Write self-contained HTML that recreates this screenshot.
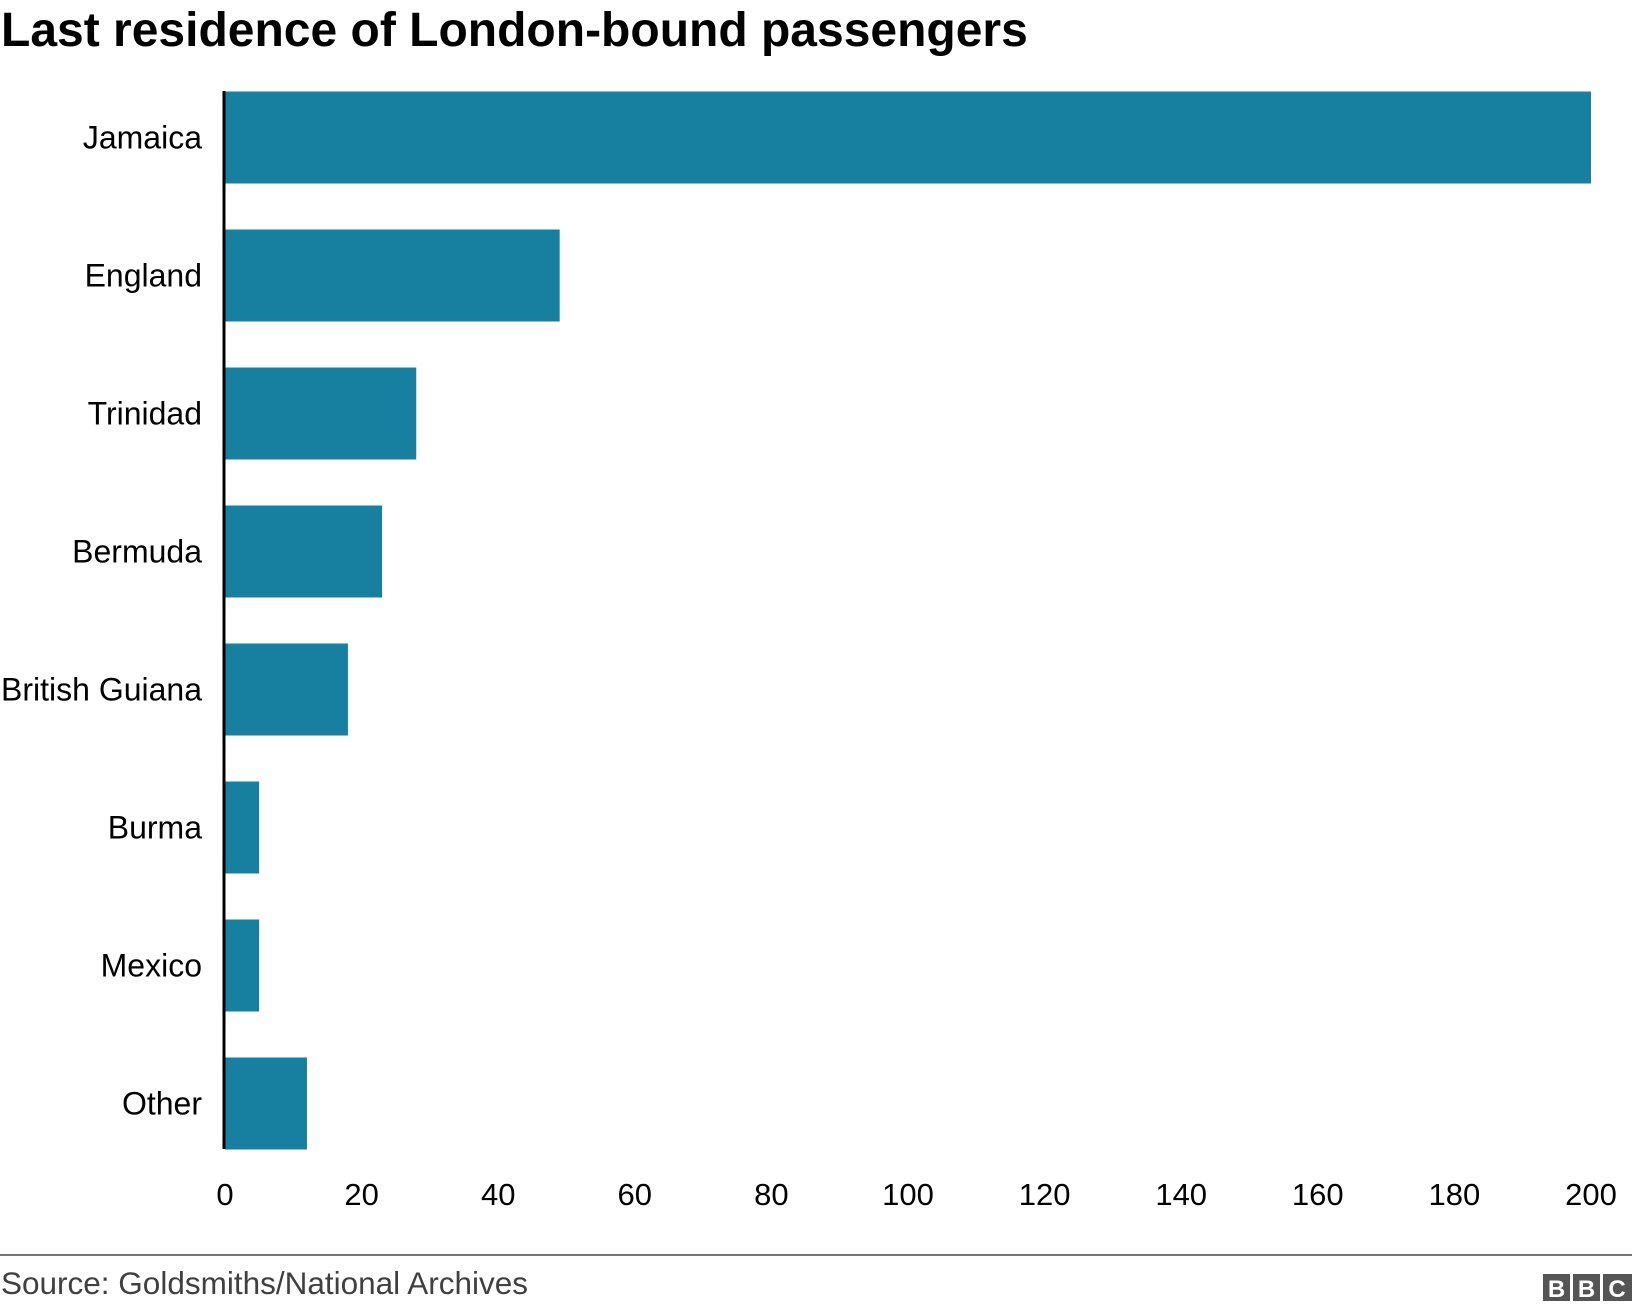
<!DOCTYPE html>
<html><head><meta charset="utf-8"><style>
body{margin:0;background:#fff;width:1632px;height:1310px;overflow:hidden;font-family:"Liberation Sans",Arial,sans-serif}
svg text{font-family:"Liberation Sans",Arial,sans-serif}
</style></head><body>
<svg id="c" width="1632" height="1310">
<text x="1" y="46" font-size="48" font-weight="bold" fill="#000">Last residence of London-bound passengers</text>
<g id="bars"></g>
<g id="labels"></g>
<g id="ticks"></g>
<line x1="224" x2="224" y1="91" y2="1149" stroke="#000" stroke-width="3"/>
<line x1="0" x2="1632" y1="1255" y2="1255" stroke="#777" stroke-width="2"/>
<text x="1" y="1294" font-size="31.5" fill="#404040">Source: Goldsmiths/National Archives</text>
<g>
<rect x="1543" y="1274" width="27" height="27" fill="#555"/><text x="1556.5" y="1297" font-size="24" font-weight="bold" fill="#fff" text-anchor="middle">B</text>
<rect x="1573" y="1274" width="27" height="27" fill="#555"/><text x="1586.5" y="1297" font-size="24" font-weight="bold" fill="#fff" text-anchor="middle">B</text>
<rect x="1603" y="1274" width="29" height="27" fill="#555"/><text x="1617" y="1297" font-size="24" font-weight="bold" fill="#fff" text-anchor="middle">C</text>
</g>
</svg>
<script>
const categories=["Jamaica","England","Trinidad","Bermuda","British Guiana","Burma","Mexico","Other"];
const values=[200,49,28,23,18,5,5,12];
const tickValues=[0,20,40,60,80,100,120,140,160,180,200];
const NS="http://www.w3.org/2000/svg";
const x0=225,x1=1591,xMax=200;
const xs=v=>x0+(x1-x0)*v/xMax;
const top0=91.5,step=138,bh=92;
const ys=i=>top0+i*step;
const gb=document.getElementById('bars'),gl=document.getElementById('labels'),gt=document.getElementById('ticks');
categories.forEach((c,i)=>{
 const r=document.createElementNS(NS,'rect');
 r.setAttribute('x',x0);r.setAttribute('y',ys(i));
 r.setAttribute('width',xs(values[i])-x0);r.setAttribute('height',bh);
 r.setAttribute('fill','#1780a1');
 
 
 gb.appendChild(r);
 const t=document.createElementNS(NS,'text');
 t.setAttribute('x',202);t.setAttribute('y',ys(i)+bh/2+11);
 t.setAttribute('text-anchor','end');t.setAttribute('font-size','32');t.setAttribute('fill','#000');
 t.textContent=c;
 
 
 gl.appendChild(t);
});
tickValues.forEach(v=>{
 const t=document.createElementNS(NS,'text');
 t.setAttribute('x',xs(v));t.setAttribute('y',1205);
 t.setAttribute('text-anchor','middle');t.setAttribute('font-size','31');t.setAttribute('fill','#000');
 t.textContent=v;
 
 
 gt.appendChild(t);
});
</script>
</body></html>
